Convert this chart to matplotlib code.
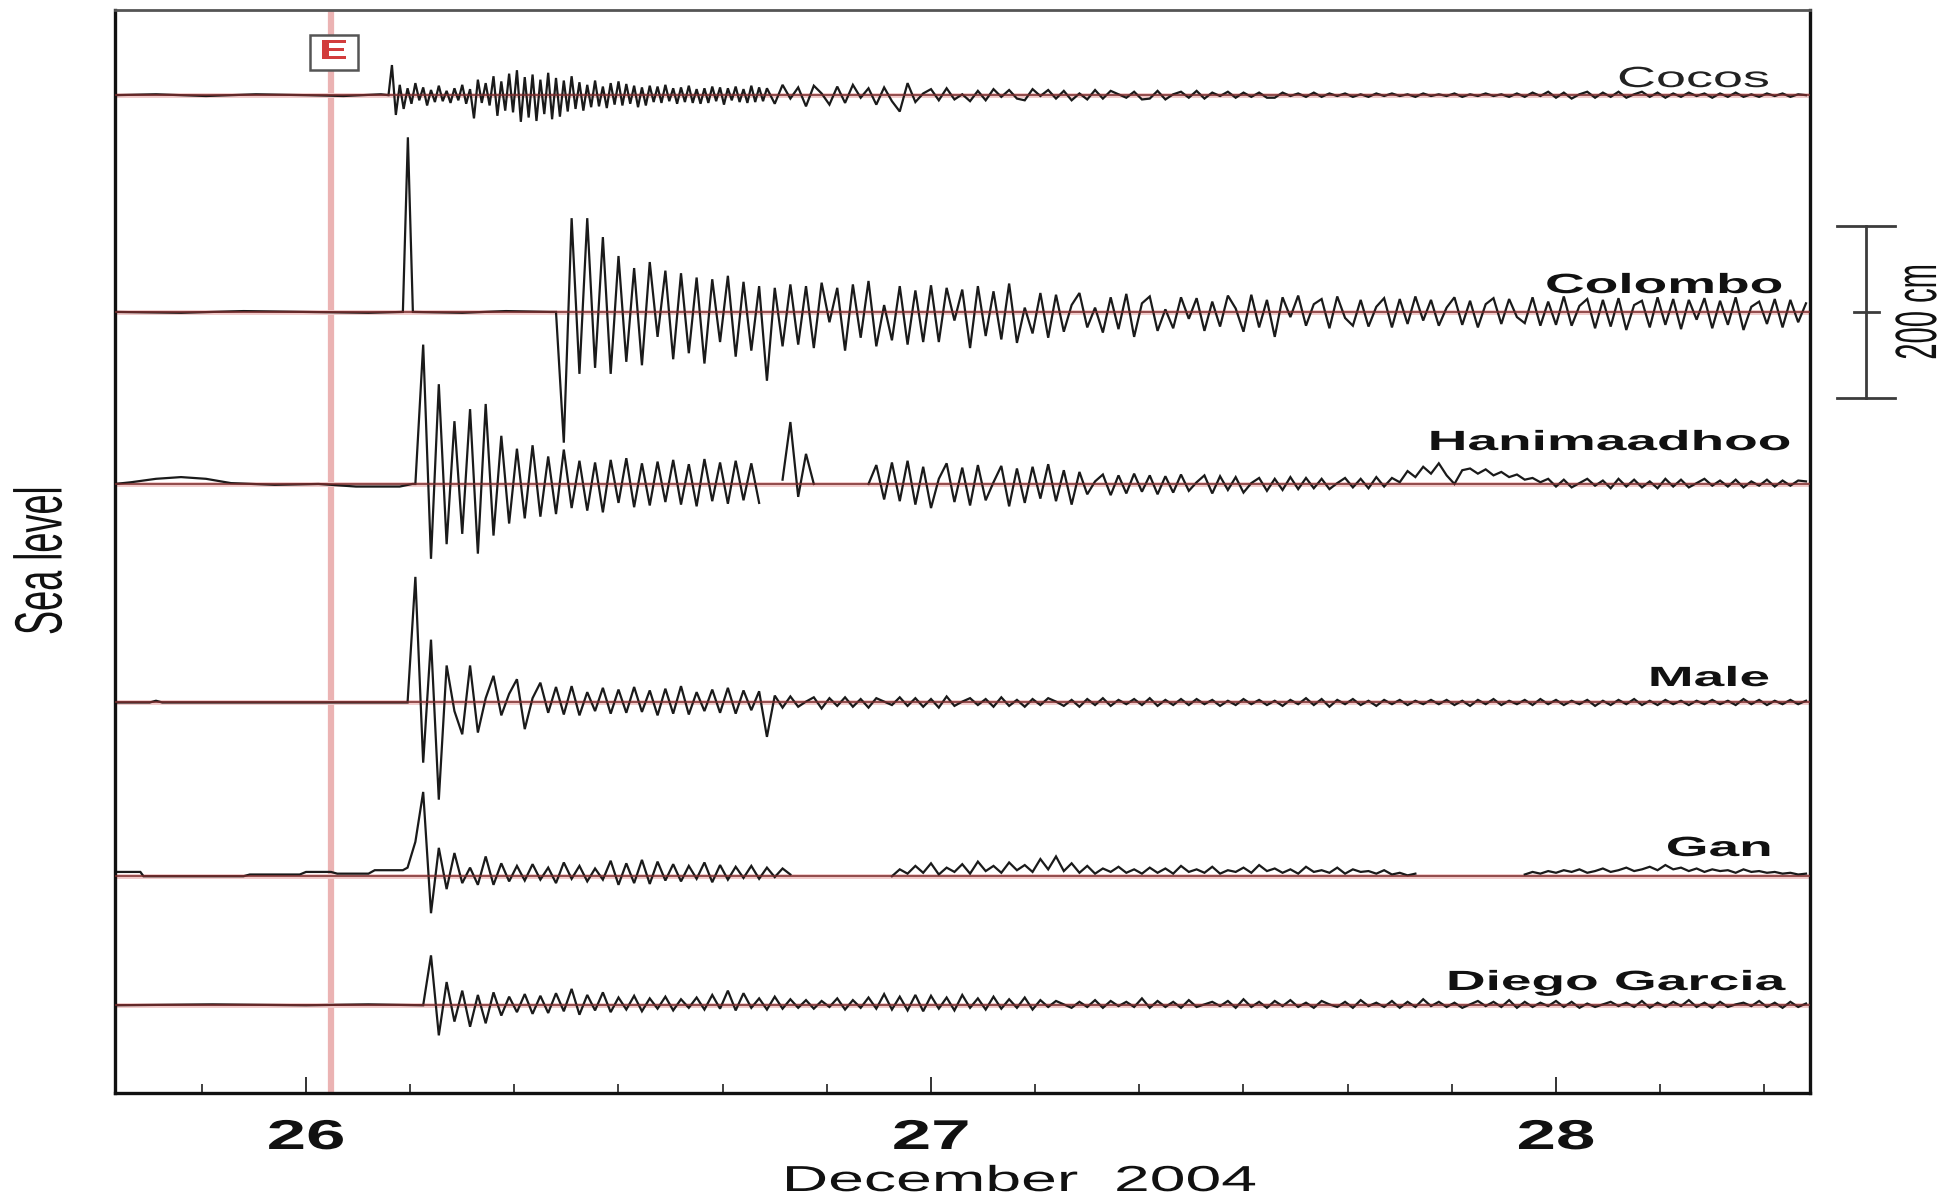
import numpy as np
import matplotlib
matplotlib.use("Agg")
import matplotlib.pyplot as plt
from matplotlib import patheffects, ticker
from matplotlib.transforms import Affine2D
from matplotlib.patches import Rectangle

nan = float("nan")

# ---------------- data (sea level anomaly, cm; time in days of December 2004) -------------
stations = ["Cocos", "Colombo", "Hanimaadhoo", "Male", "Gan", "Diego Garcia"]
quake_time = 26.04
scale_bar_cm = 200
day_ticks = [26, 27, 28]
day_labels = ["26", "27", "28"]

# Cocos
cocos_pre_t = [25.694, 25.76, 25.84, 25.92, 26.00, 26.06, 26.12, 26.132]
cocos_pre_v = [0, 1, -1, 1, 0, -1, 1, 0]
cocos_a_start, cocos_a_step = 26.1375, 0.00625
cocos_a = [35, -23, 12, -16, 8, -10, 14, -6, 9, -12, 6, -8, 11, -7, 5, -9,
           8, -6, 12, -10, 7, -27, 18, -9, 14, -12, 22, -24, 16, -18, 25, -20,
           29, -31, 21, -26, 24, -30, 18, -22, 26, -28, 20, -25, 17, -19, 22, -16,
           15, -18, 12, -14, 17, -13, 10, -15, 14, -11, 16, -12, 13, -10, 11, -14,
           9, -12, 11, -8, 10, -9, 12, -7, 8, -10, 9, -8, 11, -9, 7, -10,
           8, -9, 10, -7, 9, -11, 8, -6, 10, -8, 7, -9, 11, -8, 9, -7,
           8]
cocos_b_start, cocos_b_step = 26.75, 0.0125
cocos_b = [-10, 12, -4, 9, -13, 11, 2, -11, 10, -9, 12, -3, 8, -11, 9, -7,
           -19, 14, -8, 2, 7, -6, 8, -5, 1, -7, 5, -6, 7, -2, 6, -4,
           -6, 7, -1, 6, -4, 5, -6, 2, -5, 6, -4, 5, 1, -3, 4, -5,
           -4, 5, -5, 1, 4, -3, 5, -4, 3, -1, 4, -3, 3, -2, 3, -3,
           -3, 3, -1, 2, -2, 3, -2, 2, -1, 2, -2, 1, -2, 2, -1, 2,
           -1, 1, -2, 2, -1, 1, -1, 2, -2, 1, -1, 2, -1, 1, -2, 2,
           -2, 3, -1, 4, -3, 3, -4, 1, 4, -3, 3, -2, 4, -3, 1, 4,
           -2, 3, -3, 2, -2, 3, -1, 2, -3, 2, -2, 3, -2, 1, -2, 2,
           -1, 2, -2, 1, 0]

# Colombo
colombo_pre_t = [25.694, 25.80, 25.90, 26.00, 26.10, 26.155, 26.163, 26.171, 26.25, 26.32, 26.39]
colombo_pre_v = [0, -1, 1, 0, -1, 0, 203, 0, -1, 1, 0]
colombo_start, colombo_step = 26.40, 0.0125
colombo = [0, -152, 109, -72, 109, -65, 87, -72, 65, -58, 51, -62, 58, -29, 48, -55,
           45, -48, 40, -60, 38, -35, 42, -52, 35, -45, 30, -80, 28, -40, 32, -38,
           30, -42, 34, -12, 28, -45, 32, -30, 36, -40, 8, -33, 30, -38, 25, -35,
           31, -35, 28, -10, 26, -42, 30, -28, 24, -32, 33, -36, 5, -25, 22, -30,
           20, -23, 8, 22, -18, 5, -24, 17, -20, 21, -29, 10, 18, -22, 3, -19,
           17, -8, 16, -22, 12, -17, 19, 4, -23, 20, -18, 14, -29, 17, -6, 19,
           -16, 9, 15, -19, 18, -7, -16, 14, -17, 6, 16, -18, 15, -14, 18, -10,
           14, -16, 5, 17, -15, 13, -18, 9, 16, -14, 15, -6, -13, 17, -16, 12,
           -15, 18, -16, 7, 15, -19, 14, -17, 16, -21, 8, 13, -18, 17, -15, 15,
           -20, 14, -9, 16, -19, 13, -15, 17, -21, 6, 12, -14, 15, -18, 14, -12,
           10]

# Hanimaadhoo
hanim_pre_t = [25.694, 25.72, 25.76, 25.80, 25.84, 25.88, 25.95, 26.02, 26.08, 26.15, 26.17]
hanim_pre_v = [0, 2, 6, 8, 6, 1, -1, 0, -3, -3, 0]
hanim_start, hanim_step = 26.175, 0.0125
hanim = [0, 162, -87, 116, -70, 73, -58, 87, -81, 93, -60, 56, -46, 41, -40, 45,
         -38, 32, -35, 40, -28, 27, -31, 25, -33, 28, -22, 30, -27, 24, -25, 26,
         -21, 28, -24, 23, -26, 29, -20, 25, -23, 27, -19, 24, -22, nan, nan, 5,
         72, -15, 35, 0, nan, nan, nan, nan, nan, nan, 0, 22, -18, 25, -20, 27,
         -24, 20, -28, 6, 24, -21, 19, -25, 22, -19, 2, 21, -26, 18, -22, 20,
         -17, 23, -20, 16, -24, 14, -12, 3, 11, -13, 10, -11, 12, -9, 10, -12,
         9, -10, 11, -8, 2, 10, -11, 9, -7, 8, -10, 1, 7, -8, 6, -7,
         8, -6, 7, -5, 6, -6, 1, 7, -4, 6, -5, 8, -3, 7, 2, 15,
         8, 20, 12, 24, 10, 0, 16, 18, 12, 17, 10, 14, 8, 11, 5, 7,
         2, 6, -3, 5, -4, 1, 6, -2, 4, -5, 6, -3, 5, -4, 3, -5,
         6, -3, 5, -4, 1, 6, -2, 4, -3, 5, -4, 3, -2, 5, -3, 4,
         -2, 4, 3]

# Male
male_pre_t = [25.694, 25.75, 25.76, 25.77, 25.90, 26.05, 26.16]
male_pre_v = [0, 0, 2, 0, 0, 0, 0]
male_start, male_step = 26.1625, 0.0125
male = [0, 146, -70, 73, -113, 43, -10, -37, 43, -35, 5, 31, -15, 10, 27, -31,
        5, 23, -12, 18, -14, 19, -15, 12, -10, 17, -13, 15, -12, 18, -11, 14,
        -15, 16, -13, 19, -14, 12, -10, 15, -12, 17, -13, 14, -9, 13, -40, 8,
        -6, 7, -5, 1, 6, -7, 5, -4, 6, -5, 4, -6, 5, 1, -3, 6,
        -4, 5, -5, 4, -6, 7, -4, 1, 5, -3, 4, -5, 6, -4, 3, -5,
        4, -3, 5, 1, -4, 3, -5, 4, -3, 5, -4, 3, -2, 4, -3, 5,
        -4, 3, -3, 4, -3, 4, -2, 3, -4, 2, -3, 4, -2, 3, -3, 2,
        -4, 3, -2, 5, -3, 4, -5, 3, -2, 4, -3, 2, -4, 3, -2, 3,
        -3, 2, -2, 3, -2, 3, -3, 2, -4, 3, -2, 4, -3, 2, -2, 3,
        -3, 4, -2, 3, -3, 2, -2, 3, -4, 2, -3, 3, -2, 4, -3, 2,
        -3, 3, -2, 2, -3, 2, -2, 3, -2, 2, -3, 4, -2, 3, -3, 2,
        -2, 3, -2, 2]

# Gan
gan_pre_t = [25.694, 25.697, 25.735, 25.74, 25.90, 25.91, 25.99, 26.00, 26.04, 26.05, 26.10, 26.11, 26.155]
gan_pre_v = [5, 5, 5, 0, 0, 2, 2, 5, 5, 3, 3, 7, 7]
gan_start, gan_step = 26.1625, 0.0125
gan = [10, 40, 98, -43, 33, -15, 27, -8, 10, -10, 23, -10, 15, -6, 12, -5,
       14, -4, 10, -8, 16, -3, 12, -6, 9, -4, 18, -10, 15, -8, 19, -9,
       17, -5, 14, -6, 12, -3, 16, -7, 13, -4, 11, -2, 12, -3, 10, -1,
       9, 2, nan, nan, nan, nan, nan, nan, nan, nan, nan, nan, nan, nan, 0, 8,
       3, 12, 4, 15, 2, 10, 5, 14, 3, 17, 6, 12, 4, 16, 7, 13,
       5, 20, 8, 23, 6, 15, 4, 12, 3, 9, 5, 11, 4, 8, 3, 10,
       4, 9, 3, 12, 5, 8, 4, 11, 3, 7, 5, 10, 4, 13, 6, 9,
       4, 8, 3, 11, 5, 7, 4, 10, 3, 8, 5, 6, 3, 7, 2, 4,
       1, 3, nan, nan, nan, nan, nan, nan, nan, nan, nan, nan, nan, nan, nan, 2,
       5, 3, 6, 4, 7, 5, 8, 4, 6, 9, 5, 7, 10, 6, 8, 11,
       7, 13, 8, 10, 6, 9, 5, 8, 6, 7, 4, 8, 5, 6, 4, 5,
       3, 4, 2, 3]

# Diego Garcia
dg_pre_t = [25.694, 25.85, 26.00, 26.10, 26.18]
dg_pre_v = [0, 1, 0, 1, 0]
dg_start, dg_step = 26.1875, 0.0125
dg = [0, 58, -35, 27, -19, 17, -25, 12, -21, 15, -12, 10, -8, 13, -10, 11,
      -9, 14, -7, 19, -11, 12, -6, 15, -8, 9, -5, 11, -7, 8, -4, 10,
      -6, 7, -3, 9, -5, 12, -4, 17, -6, 14, -3, 8, -5, 10, -4, 7,
      -3, 6, -4, 5, -2, 8, -5, 6, -3, 9, -4, 13, -5, 10, -6, 12,
      -7, 11, -4, 9, -6, 12, -3, 8, -5, 10, -4, 7, -3, 9, -5, 6,
      -2, 5, 1, -3, 4, -2, 6, -3, 5, -1, 4, -2, 8, -3, 5, -2,
      4, -3, 6, -2, 1, 4, -1, 5, -3, 7, -2, 4, -3, 5, -1, 6,
      -2, 3, -3, 5, 1, -2, 4, -3, 6, -1, 3, -2, 5, -3, 4, -2,
      7, -1, 4, -2, 3, -3, 1, 5, -1, 4, -2, 6, -3, 4, -2, 3,
      -1, 5, -2, 4, -3, 2, -2, 1, 4, -1, 3, -2, 5, -3, 3, -2,
      4, -1, 6, -2, 3, -3, 4, -2, 1, 3, -1, 5, -2, 3, -3, 4,
      -2, 2]


def record(pre_t, pre_v, *segments):
    t = [np.asarray(pre_t, float)]
    v = [np.asarray(pre_v, float)]
    for start, step, vals in segments:
        t.append(start + step * np.arange(len(vals)))
        v.append(np.asarray(vals, float))
    return np.concatenate(t), np.concatenate(v)


records = [
    record(cocos_pre_t, cocos_pre_v, (cocos_a_start, cocos_a_step, cocos_a),
           (cocos_b_start, cocos_b_step, cocos_b)),
    record(colombo_pre_t, colombo_pre_v, (colombo_start, colombo_step, colombo)),
    record(hanim_pre_t, hanim_pre_v, (hanim_start, hanim_step, hanim)),
    record(male_pre_t, male_pre_v, (male_start, male_step, male)),
    record(gan_pre_t, gan_pre_v, (gan_start, gan_step, gan)),
    record(dg_pre_t, dg_pre_v, (dg_start, dg_step, dg)),
]

# ---------------- layout ----------------
W, H = 1959, 1200
offsets = [1160, 908, 708, 454, 252, 102]          # vertical offset of each record (cm)
label_px = [(1769, 87), (1782, 293), (1790, 450), (1769, 686), (1771, 856), (1785, 990)]
label_bold = [False, True, True, True, True, True]


class Stretch(patheffects.AbstractPathEffect):
    """Draw text stretched in its own x (sx) or y (sy) direction."""
    def __init__(self, sx=1.0, sy=1.0, anchor="center"):
        super().__init__()
        self.sx, self.sy, self.anchor = sx, sy, anchor

    def draw_path(self, renderer, gc, tpath, affine, rgbFace=None):
        ext = tpath.get_extents()
        px = {"left": ext.x0, "right": ext.x1, "center": 0.5 * (ext.x0 + ext.x1)}[self.anchor]
        py = 0.5 * (ext.y0 + ext.y1)
        tr = Affine2D().translate(-px, -py).scale(self.sx, self.sy).translate(px, py) + affine
        renderer.draw_path(gc, tpath, tr, rgbFace)


plt.rcParams["font.family"] = ["Liberation Sans", "DejaVu Sans"]

fig = plt.figure(figsize=(W / 100, H / 100), dpi=100, facecolor="white")
ax = fig.add_axes([115 / W, 1 - 1093 / H, (1810 - 115) / W, (1093 - 10) / H])
ax.set_xlim(25.6944, 28.4064)
ax.set_ylim(0, 1259)

# earthquake line
ax.axvline(quake_time, color="#ebb3b3", lw=4.5, zorder=0.5)

for (t, v), off in zip(records, offsets):
    ax.axhline(off, color="#f1c9c9", lw=3.5, zorder=1)
    ax.plot(t, off + v, color="#1a1a1a", lw=1.6, zorder=2, solid_joinstyle="miter")
    ax.axhline(off, color="#7a2c2c", lw=1.4, zorder=3, alpha=0.8)

# scale bar (outside the axes, right)
sb_x = 28.496
sb_off = offsets[1]
bar_kw = dict(color="#3c3c3c", lw=2.0, clip_on=False, zorder=5)
ax.plot([sb_x, sb_x], [sb_off - scale_bar_cm / 2, sb_off + scale_bar_cm / 2], **bar_kw)
for yy, half in [(sb_off - scale_bar_cm / 2, 0.046), (sb_off + scale_bar_cm / 2, 0.046), (sb_off, 0.02)]:
    ax.plot([sb_x - half, sb_x + half], [yy, yy], **bar_kw)

# axes styling
for side, sp in ax.spines.items():
    sp.set_linewidth(2.4)
    sp.set_color("#111111")
ax.spines["top"].set_color("#555555")
ax.spines["top"].set_linewidth(2.0)
ax.set_yticks([])
ax.set_xticks(day_ticks, labels=day_labels)
ax.xaxis.set_minor_locator(ticker.MultipleLocator(1 / 6))
ax.tick_params(axis="x", which="major", direction="in", length=11.5, width=1.4,
               color="#333333", pad=18, labelsize=30)
ax.tick_params(axis="x", which="minor", direction="in", length=6.5, width=1.3, color="#333333")
for lab in ax.get_xticklabels():
    lab.set_fontweight("bold")
    lab.set_color("#111111")
    lab.set_path_effects([Stretch(sx=1.7)])

# station labels
for name, (px, py), bold in zip(stations, label_px, label_bold):
    fig.text(px / W, 1 - py / H, name, ha="right", va="baseline",
             fontsize=21 if not bold else 20, fontweight="bold" if bold else "normal",
             color="#111111" if bold else "#222222",
             path_effects=[Stretch(sx=1.85 if not bold else 1.98, anchor="right")])

# axis titles
fig.text(1020 / W, 1 - 1191 / H, "December  2004", ha="center", va="baseline",
         fontsize=26, color="#111111", path_effects=[Stretch(sx=1.78)])
fig.text(41 / W, 1 - 561 / H, "Sea level", rotation=90, ha="center", va="center",
         fontsize=26, color="#111111", path_effects=[Stretch(sy=1.85)])
fig.text(1918 / W, 1 - 312 / H, "200 cm", rotation=90, ha="center", va="center",
         fontsize=21, color="#111111", path_effects=[Stretch(sy=2.0)])

# earthquake marker box
fig.add_artist(Rectangle((310 / W, 1 - 70 / H), 48 / W, 35 / H, transform=fig.transFigure,
                         facecolor="white", edgecolor="#555555", lw=1.8, zorder=4))
fig.text(334 / W, 1 - 52 / H, "E", ha="center", va="center", fontsize=20,
         fontweight="bold", color="#d23c3c", zorder=5, path_effects=[Stretch(sx=1.55)])

fig.savefig("out.png", dpi=100, facecolor="white")
